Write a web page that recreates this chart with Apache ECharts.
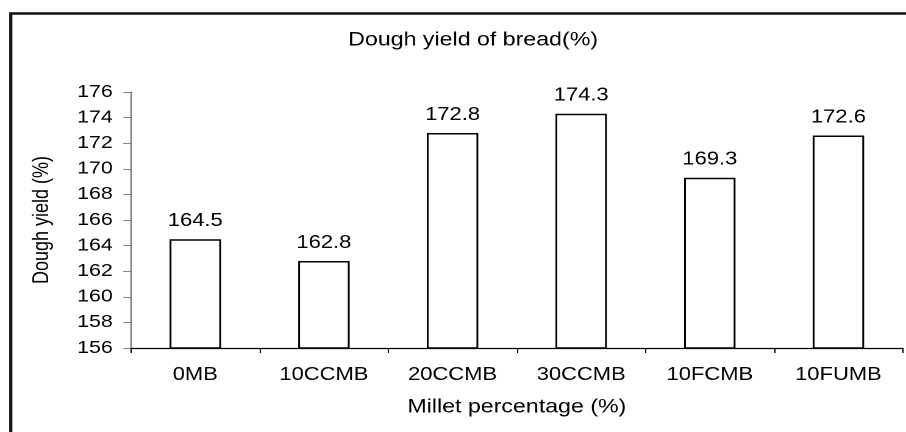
<!DOCTYPE html>
<html><head><meta charset="utf-8">
<script src="https://cdn.jsdelivr.net/npm/echarts@6/dist/echarts.min.js"></script>
<style>
html,body{margin:0;padding:0;background:#fff;overflow:hidden}
#wrap{width:906px;height:432px;overflow:hidden;position:relative}
#c{width:743px;height:432px;transform:scaleX(1.21938);transform-origin:0 0}
</style>
</head><body><div id="wrap"><div id="c"></div></div>
<script>
const categories = ['0MB','10CCMB','20CCMB','30CCMB','10FCMB','10FUMB'];
const values = [164.5, 162.8, 172.8, 174.3, 169.3, 172.6];
const yMin = 156, yMax = 176, yStep = 2;
const titleText = 'Dough yield of bread(%)';
const yName = 'Dough yield (%)';
const xName = 'Millet percentage (%)';

// the reference is horizontally stretched; draw in a narrower box and stretch it
const S = 906 / 743;
const font = 'Liberation Sans, Arial, sans-serif';
const chart = echarts.init(document.getElementById('c'), null, {renderer:'canvas', devicePixelRatio:2});
chart.setOption({
  animation:false,
  backgroundColor:'#fff',
  graphic:[{type:'rect', shape:{x:10.8/S,y:13.5,width:1000,height:1000}, style:{fill:'none',stroke:'#111',lineWidth:2.6}, silent:true}],
  title:{text:titleText,left:467/S,textAlign:'center',top:26,textStyle:{fontFamily:font,fontSize:19,fontWeight:'normal',color:'#000'}},
  grid:{left:131/S,right:3.3/S,top:92,bottom:84,containLabel:false},
  xAxis:{type:'category',data:categories,
    name:xName,nameLocation:'middle',nameGap:50,
    nameTextStyle:{fontFamily:font,fontSize:19,color:'#000'},
    axisLine:{lineStyle:{color:'#000',width:1.3}},
    axisTick:{show:true,length:5,lineStyle:{color:'#000',width:1}},
    axisLabel:{fontFamily:font,fontSize:18,color:'#000',margin:18}
  },
  yAxis:{type:'value',min:yMin,max:yMax,interval:yStep,
    name:yName,nameLocation:'middle',nameGap:64,nameRotate:90,
    nameTextStyle:{fontFamily:font,fontSize:18,color:'#000'},
    axisLine:{show:true,lineStyle:{color:'#808080',width:1.3}},
    axisTick:{show:true,length:6.3,lineStyle:{color:'#808080',width:1}},
    axisLabel:{fontFamily:font,fontSize:17.5,color:'#000',margin:15},
    splitLine:{show:false}
  },
  series:[{type:'bar',data:values,barWidth:'40%',
    itemStyle:{color:'#fff',borderColor:'#000',borderWidth:1.5},
    label:{show:true,position:'top',distance:9,fontFamily:font,fontSize:18,color:'#000',formatter:p=>p.value.toFixed(1)}
  }]
});
</script></body></html>
